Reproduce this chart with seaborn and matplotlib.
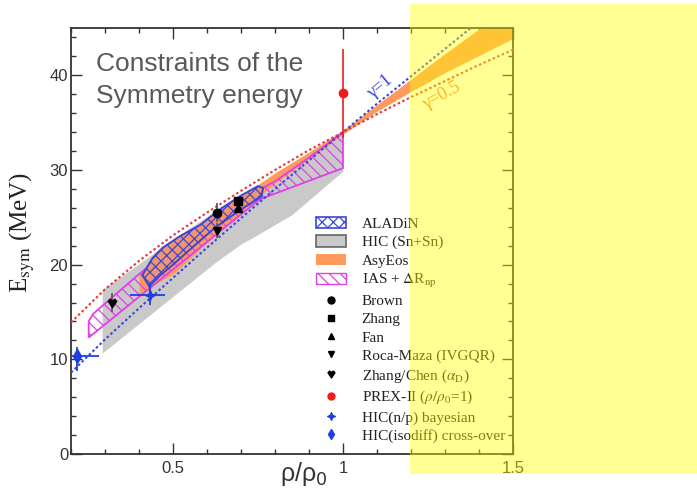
import numpy as np
import pandas as pd
import matplotlib
matplotlib.use("Agg")
import matplotlib.pyplot as plt
import seaborn as sns
from matplotlib.patches import Polygon, Patch, Rectangle
from matplotlib.lines import Line2D
from matplotlib.legend_handler import HandlerLine2D
from matplotlib.font_manager import FontProperties
from matplotlib.path import Path
from matplotlib.ticker import MultipleLocator, FixedLocator

# ---------------------------------------------------------------- data
RHO_GRID = [0.2, 0.3, 0.4, 0.5, 0.6, 0.7, 0.8, 0.9, 1.0, 1.1, 1.2, 1.3, 1.4, 1.5]
E_GAMMA_1 = [8.6, 12.1, 15.4, 18.6, 21.8, 24.9, 28.0, 31.0, 34.0, 37.0, 39.9, 42.8, 45.7, 48.6]
E_GAMMA_05 = [13.9, 17.4, 20.4, 23.1, 25.5, 27.8, 30.0, 32.1, 34.0, 35.9, 37.7, 39.4, 41.1, 42.7]

# HIC (Sn+Sn) band
HIC_RHO_UP = [0.293, 0.4, 0.5, 0.6, 0.7, 0.8, 0.9, 1.0]
HIC_E_UP = [17.3, 20.0, 22.6, 25.0, 27.3, 29.5, 31.7, 34.0]
HIC_RHO_LO = [0.293, 0.63, 0.70, 0.75, 0.85, 1.0]
HIC_E_LO = [10.6, 20.3, 22.1, 23.1, 25.2, 29.8]

# IAS + Delta R_np band
IAS_RHO_UP = [0.252, 0.265, 0.40, 0.50, 0.60, 0.70, 0.80, 0.90, 1.0]
IAS_E_UP = [14.0, 14.8, 19.0, 21.9, 24.6, 26.9, 28.8, 31.3, 34.0]
IAS_RHO_LO = [0.252, 0.755, 1.0]
IAS_E_LO = [12.3, 26.9, 30.2]

# AsyEos band
ASY_RHO = [0.40, 0.45, 0.5, 0.6, 0.7, 0.8, 0.9, 1.0, 1.1, 1.2, 1.3, 1.4, 1.5]
ASY_E_LO = [16.6, 18.0, 19.0, 22.3, 25.5, 28.6, 31.2, 33.8, 36.2, 38.3, 40.3, 42.1, 43.9]
ASY_E_HI = [19.0, 20.4, 21.8, 24.6, 27.2, 29.7, 31.9, 34.2, 36.9, 39.6, 42.3, 44.9, 47.5]

# ALADiN contour
ALA_RHO_UP = [0.41, 0.44, 0.47, 0.52, 0.58, 0.64, 0.70, 0.75, 0.765]
ALA_E_UP = [18.9, 20.7, 21.8, 23.0, 24.2, 25.9, 27.3, 28.3, 28.1]
ALA_RHO_LO = [0.76, 0.69, 0.62, 0.55, 0.50, 0.46, 0.43]
ALA_E_LO = [27.2, 25.6, 23.8, 21.6, 20.0, 18.8, 17.7]

# single-density constraints
PT_LABELS = ["Brown", "Zhang", "Fan", "Roca-Maza (IVGQR)", "Zhang/Chen ($\\alpha_{\\mathrm{D}}$)",
             "PREX-II ($\\rho/\\rho_{0}$=1)"]
PT_RHO = [0.63, 0.69, 0.69, 0.63, 0.32, 1.0]
PT_E = [25.5, 26.7, 26.0, 23.6, 16.0, 38.1]
PT_EERR = [1.0, 0.3, 0.4, 0.8, 1.0, 4.7]

HIC_PT_LABELS = ["HIC(n/p) bayesian", "HIC(isodiff) cross-over"]
HIC_PT_RHO = [0.432, 0.217]
HIC_PT_RHO_LO = [0.373, 0.194]
HIC_PT_RHO_HI = [0.476, 0.283]
HIC_PT_E = [16.8, 10.3]
HIC_PT_E_LO = [15.7, 8.8]
HIC_PT_E_HI = [17.9, 11.3]

BAND_LABELS = ["ALADiN", "HIC (Sn+Sn)", "AsyEos", "IAS + $\\Delta$R$_{\\mathrm{np}}$"]

# ---------------------------------------------------------------- style
sns.set_style("ticks")
plt.rcParams["font.family"] = ["Liberation Sans", "DejaVu Sans"]
plt.rcParams["hatch.linewidth"] = 0.9

BLUE = "#3a46d8"
RED = "#e23b3b"
ORANGE = "#ff9a5c"
MAGENTA = "#e040e8"
GRAY = "#c9c9c9"
AXCOL = "#333333"

fig = plt.figure(figsize=(6.97, 4.95), dpi=100)
ax = fig.add_axes([71 / 697, 1 - 454 / 495, 442 / 697, 426 / 495])

# bands
hic_xy = list(zip(HIC_RHO_UP, HIC_E_UP)) + list(zip(HIC_RHO_LO, HIC_E_LO))[::-1]
ax.add_patch(Polygon(hic_xy, closed=True, facecolor=GRAY, edgecolor="none", zorder=1))

ax.fill_between(ASY_RHO, ASY_E_LO, ASY_E_HI, color=ORANGE, linewidth=0, zorder=2)

ias_xy = list(zip(IAS_RHO_UP, IAS_E_UP)) + list(zip(IAS_RHO_LO, IAS_E_LO))[::-1]
ax.add_patch(Polygon(ias_xy, closed=True, facecolor="none", edgecolor=MAGENTA,
                     hatch="\\\\\\", linewidth=1.3, zorder=3))

ala_xy = list(zip(ALA_RHO_UP, ALA_E_UP)) + list(zip(ALA_RHO_LO, ALA_E_LO))
ax.add_patch(Polygon(ala_xy, closed=True, facecolor="#f4946c", edgecolor=BLUE,
                     hatch="xxx", linewidth=1.4, zorder=4))

# gamma curves
curves = pd.DataFrame({
    "rho": RHO_GRID * 2,
    "E": E_GAMMA_1 + E_GAMMA_05,
    "gamma": ["1"] * len(RHO_GRID) + ["0.5"] * len(RHO_GRID),
})
sns.lineplot(data=curves, x="rho", y="E", hue="gamma", palette={"1": BLUE, "0.5": RED},
             linestyle=(0, (1.2, 1.2)), linewidth=1.5, estimator=None, sort=False,
             legend=False, ax=ax, zorder=5)

ax.text(1.11, 38.8, "γ=1", color=BLUE, rotation=40, fontsize=13,
        family="Liberation Serif", ha="center", va="center", zorder=6)
ax.text(1.29, 37.8, "γ=0.5", color="#ff7a30", rotation=29, fontsize=13,
        family="Liberation Serif", ha="center", va="center", zorder=6)

# markers
heart = Path([(-1, 0.5), (-0.55, 1.0), (0, 0.6), (0.55, 1.0), (1, 0.5), (0, -1), (-1, 0.5)],
             [Path.MOVETO] + [Path.LINETO] * 5 + [Path.CLOSEPOLY])
star4 = Path([(0, 1), (0.3, 0.3), (1, 0), (0.3, -0.3), (0, -1), (-0.3, -0.3), (-1, 0),
              (-0.3, 0.3), (0, 1)], [Path.MOVETO] + [Path.LINETO] * 7 + [Path.CLOSEPOLY])
PT_MARKERS = ["o", "s", "^", "v", heart, "o"]
PT_COLORS = ["black", "black", "black", "black", "black", "#ee1c1c"]
PT_SIZES = [6, 6, 5.5, 5.5, 6, 6]

for r, e, err, m, c, s in zip(PT_RHO, PT_E, PT_EERR, PT_MARKERS, PT_COLORS, PT_SIZES):
    ax.errorbar(r, e, yerr=err, fmt="none", ecolor=c if c != "black" else "#555555",
                elinewidth=1.2, capsize=0, zorder=7)
    ax.plot([r], [e], marker=m, color=c, markersize=s, linestyle="none", zorder=8)

HIC_PT_MARKERS = [star4, "d"]
for r, rlo, rhi, e, elo, ehi, m in zip(HIC_PT_RHO, HIC_PT_RHO_LO, HIC_PT_RHO_HI,
                                       HIC_PT_E, HIC_PT_E_LO, HIC_PT_E_HI, HIC_PT_MARKERS):
    ax.errorbar(r, e, xerr=[[r - rlo], [rhi - r]], yerr=[[e - elo], [ehi - e]],
                fmt="none", ecolor="#1f3fe0", elinewidth=1.3, capsize=0, zorder=7)
    ax.plot([r], [e], marker=m, color="#1f3fe0", markersize=7, linestyle="none", zorder=8)

# axes
ax.set_xlim(0.2, 1.5)
ax.set_ylim(0, 45)
ax.xaxis.set_major_locator(FixedLocator([0.5, 1.0, 1.5]))
ax.set_xticklabels(["0.5", "1", "1.5"])
ax.xaxis.set_minor_locator(MultipleLocator(0.1))
ax.yaxis.set_major_locator(MultipleLocator(10))
ax.yaxis.set_minor_locator(MultipleLocator(2))
ax.tick_params(which="both", direction="in", top=True, right=True, colors=AXCOL,
               labelsize=12, width=1.0)
ax.tick_params(which="major", length=8)
ax.tick_params(which="minor", length=3.8)
ax.tick_params(axis="y", which="major", pad=2)
ax.tick_params(axis="x", which="major", pad=5)
for sp in ax.spines.values():
    sp.set_color(AXCOL)
    sp.set_linewidth(1.3)
ax.set_xlabel("")
ax.set_ylabel("")

fig.text(0.032, 1 - 232 / 495, "E$_{\\mathrm{sym}}$ (MeV)", rotation=90, fontsize=18,
         family="Liberation Serif", math_fontfamily="stix", ha="center", va="center",
         color="#222222")
fig.text(304 / 697, 1 - 474 / 495, "ρ/ρ$_0$", fontsize=18, family="Liberation Sans",
         math_fontfamily="dejavusans", ha="center", va="center", color="#333333")

ax.text(0.057, 0.944, "Constraints of the\nSymmetry energy", transform=ax.transAxes,
        fontsize=19, color="#595959", va="top", ha="left", linespacing=1.45, zorder=9)

# legend
class RightMarker(HandlerLine2D):
    def get_xdata(self, legend, xdescent, ydescent, width, height, fontsize):
        xdata = np.array([-xdescent, -xdescent + width])
        return xdata, np.array([-xdescent + 0.9 * width])

band_handles = [
    Patch(facecolor="white", edgecolor=BLUE, hatch="xxx", linewidth=1.2),
    Patch(facecolor=GRAY, edgecolor="#666666", linewidth=1.2),
    Patch(facecolor=ORANGE, edgecolor="none"),
    Patch(facecolor="white", edgecolor=MAGENTA, hatch="\\\\\\", linewidth=1.0),
]
pt_handles = [Line2D([], [], marker=m, color=c, markersize=5, linestyle="none")
              for m, c in zip(PT_MARKERS, PT_COLORS)]
pt_handles += [Line2D([], [], marker=m, color="#1f3fe0", markersize=5.5, linestyle="none")
               for m in HIC_PT_MARKERS]
handles = band_handles + pt_handles
labels = BAND_LABELS + PT_LABELS + HIC_PT_LABELS
handler_map = {h: RightMarker(numpoints=1) for h in pt_handles}
leg = ax.legend(handles, labels, loc="upper left", bbox_to_anchor=(0.554, 0.556),
                frameon=False, borderpad=0, borderaxespad=0, handlelength=2.0,
                handleheight=0.75, handletextpad=1.0, labelspacing=0.28,
                prop=FontProperties(family="Liberation Serif", size=11, math_fontfamily="stix"),
                handler_map=handler_map)
for t in leg.get_texts():
    t.set_color("#222222")

# highlight overlay
fig.add_artist(Rectangle((410 / 697, 1 - 474 / 495), 287 / 697, 470 / 495,
                         transform=fig.transFigure, facecolor="#ffff00", alpha=0.42,
                         edgecolor="none", zorder=20))

fig.savefig("out.png", dpi=100)
